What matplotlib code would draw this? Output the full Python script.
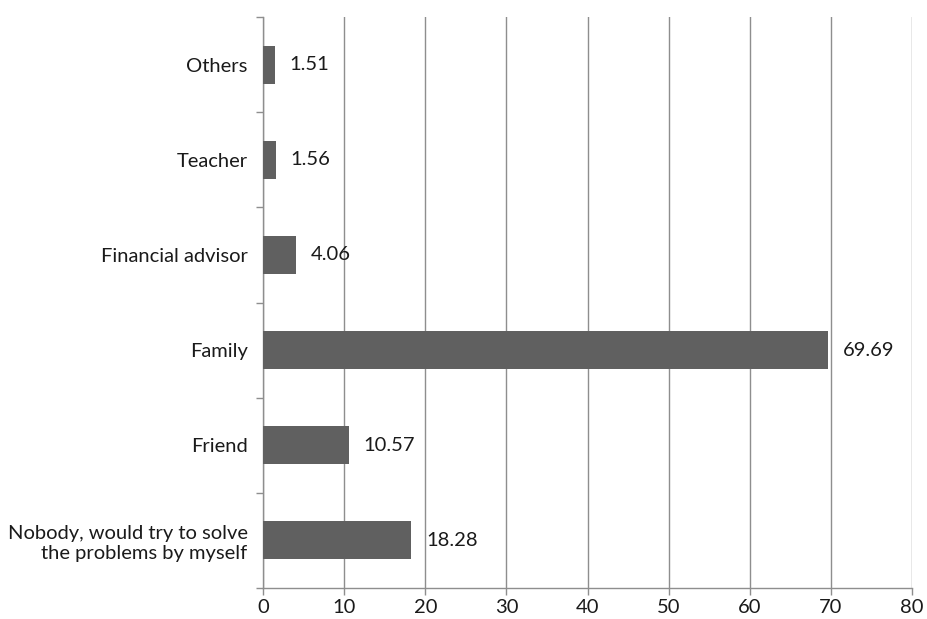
import matplotlib
matplotlib.use("Agg")
import matplotlib.pyplot as plt
from matplotlib.ticker import FixedLocator, NullFormatter

categories = ["Nobody, would try to solve\nthe problems by myself", "Friend", "Family",
              "Financial advisor", "Teacher", "Others"]
values = [18.28, 10.57, 69.69, 4.06, 1.56, 1.51]
x_ticks = [0, 10, 20, 30, 40, 50, 60, 70, 80]

plt.rcParams['font.family'] = ['Lato', 'DejaVu Sans']

fig = plt.figure(figsize=(9.28, 6.19), dpi=100)
ax = fig.add_axes([0.2834, 0.050, 0.6994, 0.9225])

grid_c = "#8e8e8e"
bar_c = "#606060"
fs = 14.5

ypos = list(range(len(categories)))
ax.barh(ypos, values, height=0.4, color=bar_c, zorder=3)
for y, v in zip(ypos, values):
    ax.text(v + 1.8, y, f"{v:.2f}", va="center", ha="left", fontsize=fs, color="#1a1a1a")

ax.set_xlim(0, 80)
ax.set_ylim(-0.5, len(categories) - 0.5)
ax.set_xticks(x_ticks)
ax.set_xticklabels([str(t) for t in x_ticks], fontsize=fs, color="#1a1a1a")
ax.set_yticks(ypos)
ax.set_yticklabels(categories, fontsize=fs, color="#1a1a1a", linespacing=1.25)
ax.yaxis.set_minor_locator(FixedLocator([i - 0.5 for i in range(len(categories) + 1)]))
ax.yaxis.set_minor_formatter(NullFormatter())
ax.tick_params(axis="y", which="major", length=0, pad=11)
ax.tick_params(axis="y", which="minor", length=5, color=grid_c, width=1)
ax.tick_params(axis="x", length=5, color=grid_c, width=1, pad=3)

ax.grid(axis="x", color=grid_c, linewidth=1, zorder=0)
ax.set_axisbelow(True)
for s in ["top", "right"]:
    ax.spines[s].set_visible(False)
for s in ["left", "bottom"]:
    ax.spines[s].set_color(grid_c)
    ax.spines[s].set_linewidth(1)

fig.savefig("out.png", dpi=100, facecolor="white")
